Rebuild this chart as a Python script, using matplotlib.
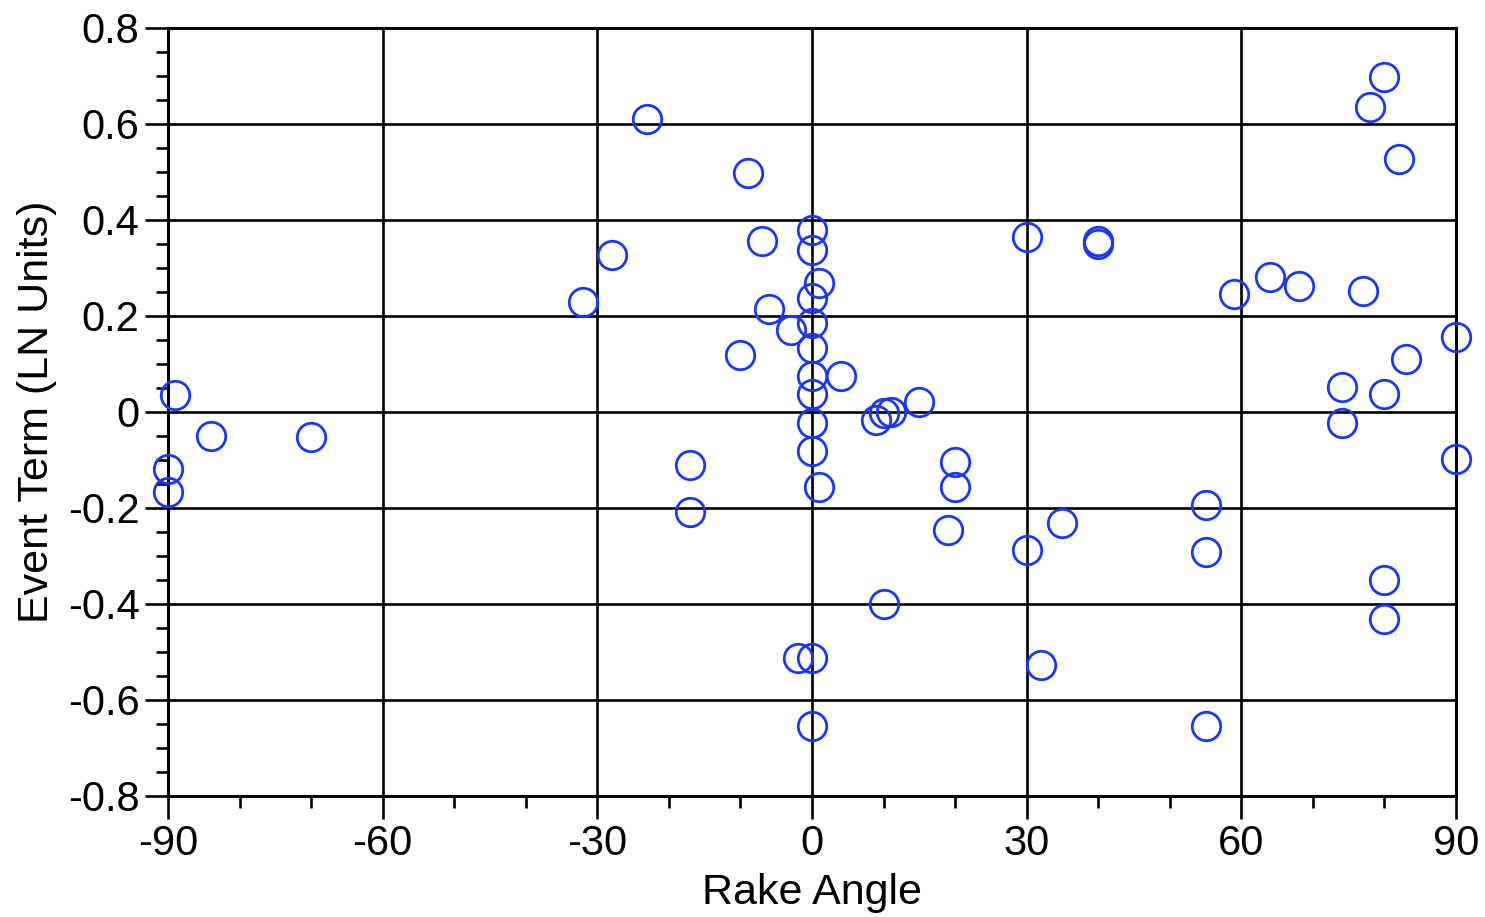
import numpy as np
import matplotlib
matplotlib.use("Agg")
import matplotlib.pyplot as plt
from matplotlib.ticker import MultipleLocator

plt.rcParams['font.family'] = ['Liberation Sans', 'DejaVu Sans']
plt.rcParams['axes.unicode_minus'] = False

# rake angle (deg) and event term (LN units) per event
rake = [-90, -90, -89, -84, -70,
        -32, -28, -23, -17, -17, -10, -9, -7, -6, -3, -2,
        0, 0, 0, 0, 0, 0, 0, 0, 0, 0, 0,
        1, 1, 4, 9, 10, 11, 10, 15, 19, 20, 20,
        30, 30, 32, 35, 40, 40,
        55, 55, 55, 59, 64, 68, 74, 74, 77, 78,
        80, 80, 80, 80, 82, 83, 90, 90]
event_term = [-0.119, -0.166, 0.036, -0.050, -0.052,
              0.230, 0.327, 0.610, -0.111, -0.209, 0.118, 0.497, 0.357, 0.215, 0.170, -0.513,
              0.380, 0.337, 0.238, 0.186, 0.133, 0.075, 0.038, -0.022, -0.082, -0.513, -0.655,
              0.268, -0.157, 0.074, -0.016, -0.002, 0.000, -0.401, 0.020, -0.245, -0.105, -0.157,
              0.364, -0.287, -0.528, -0.231, 0.356, 0.350,
              -0.194, -0.291, -0.655, 0.245, 0.282, 0.263, 0.051, -0.022, 0.252, 0.635,
              0.698, 0.038, -0.350, -0.432, 0.527, 0.111, 0.156, -0.097]

xticks = [-90, -60, -30, 0, 30, 60, 90]
yticks = [0.8, 0.6, 0.4, 0.2, 0, -0.2, -0.4, -0.6, -0.8]
ytick_labels = ['0.8', '0.6', '0.4', '0.2', '0', '-0.2', '-0.4', '-0.6', '-0.8']

fig = plt.figure(figsize=(14.85, 9.17), dpi=100, facecolor='white')
ax = fig.add_axes([0.1131, 0.132, 0.8674, 0.8375])

ax.plot(rake, event_term, linestyle='none', marker='o', ms=20.5,
        mfc='none', mec='#1a35ff', mew=2.0, clip_on=False, zorder=3)

ax.set_xlim(-90, 90)
ax.set_ylim(-0.8, 0.8)
ax.set_xticks(xticks)
ax.set_xticklabels([str(v) for v in xticks])
ax.set_yticks(yticks)
ax.set_yticklabels(ytick_labels)
ax.xaxis.set_minor_locator(MultipleLocator(10))
ax.yaxis.set_minor_locator(MultipleLocator(0.05))

ax.grid(True, which='major', color='black', linewidth=1.9)
ax.set_axisbelow(True)
for sp in ax.spines.values():
    sp.set_linewidth(2.2)
    sp.set_color('black')

ax.tick_params(which='major', direction='out', length=16.5, width=1.9,
               labelsize=30, pad=4, top=False, right=False)
ax.tick_params(which='minor', direction='out', length=8.5, width=1.9,
               top=False, right=False)

ax.set_xlabel('Rake Angle', fontsize=31, labelpad=6)
ax.set_ylabel('Event Term (LN Units)', fontsize=31, labelpad=8)

fig.savefig('out.png', dpi=100, facecolor='white')
